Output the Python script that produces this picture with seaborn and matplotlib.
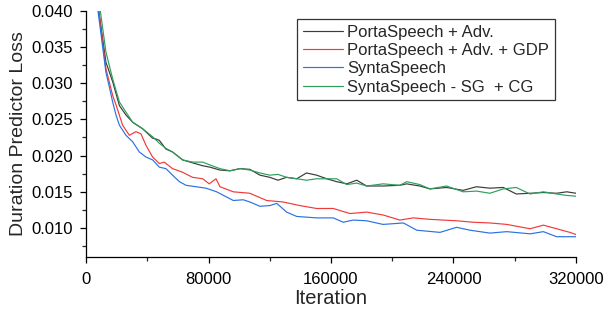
import numpy as np
import pandas as pd
import matplotlib
matplotlib.use("Agg")
import matplotlib.pyplot as plt
import seaborn as sns
from matplotlib.ticker import MultipleLocator

# series names as in the legend
names = ["PortaSpeech + Adv.", "PortaSpeech + Adv. + GDP",
         "SyntaSpeech", "SyntaSpeech - SG  + CG"]

# PortaSpeech + Adv. (dark grey)
porta_x = [8000, 13000, 17400, 21800, 26100, 30500, 37000, 43500, 45500, 47900,
           52200, 56500, 63100, 69600, 76200, 81000, 87500, 94000, 100600, 107000,
           113600, 120000, 125400, 131000, 137600, 144000, 150600, 157200, 163700, 170300,
           176800, 183300, 194000, 205000, 209400, 218000, 224600, 235500, 246300, 255000,
           263800, 272500, 281000, 290000, 298700, 307400, 314000, 320000]
porta_y = [0.0405, 0.0329, 0.0302, 0.0269, 0.0256, 0.0246, 0.0237, 0.0224, 0.0223, 0.0221,
           0.0209, 0.0205, 0.0194, 0.0190, 0.0186, 0.0184, 0.0180, 0.0179, 0.0182, 0.0181,
           0.0173, 0.0170, 0.0166, 0.0170, 0.0168, 0.0176, 0.0173, 0.0168, 0.0164, 0.0161,
           0.0166, 0.0158, 0.0158, 0.0159, 0.0161, 0.0158, 0.0154, 0.0156, 0.0152, 0.0157,
           0.0155, 0.0156, 0.0147, 0.0148, 0.0149, 0.0148, 0.0150, 0.0148]

# PortaSpeech + Adv. + GDP (red)
gdp_x = [8000, 13000, 17400, 19600, 23900, 28300, 32600, 35900, 39200, 43500,
         47900, 51100, 56500, 63100, 69600, 76200, 80500, 84900, 87500, 96200,
         107000, 118000, 128600, 139700, 150600, 161500, 172400, 183300, 194000, 205000,
         213700, 224600, 242000, 252900, 263800, 274800, 290000, 298700, 307400, 316000,
         320000]
gdp_y = [0.0405, 0.0320, 0.0283, 0.0270, 0.0242, 0.0228, 0.0233, 0.0230, 0.0214, 0.0198,
         0.0189, 0.0191, 0.0182, 0.0177, 0.0170, 0.0168, 0.0161, 0.0168, 0.0157, 0.0150,
         0.0148, 0.0138, 0.0136, 0.0131, 0.0127, 0.0127, 0.0120, 0.0122, 0.0118, 0.0111,
         0.0114, 0.0112, 0.0110, 0.0108, 0.0107, 0.0105, 0.0099, 0.0104, 0.0099, 0.0094,
         0.0091]

# SyntaSpeech (blue)
synta_x = [7500, 13000, 15000, 17400, 19600, 21800, 26100, 30500, 34800, 39200,
           43500, 47900, 52200, 56500, 61000, 65300, 71800, 78400, 85300, 96200,
           102700, 107000, 113600, 120000, 124600, 131000, 137600, 150600, 161500, 168000,
           174600, 183300, 194000, 207300, 216000, 231200, 242000, 250800, 263800, 274800,
           290000, 298700, 307400, 316000, 320000]
synta_y = [0.0405, 0.0315, 0.0297, 0.0274, 0.0256, 0.0242, 0.0228, 0.0219, 0.0205, 0.0198,
           0.0194, 0.0184, 0.0182, 0.0173, 0.0164, 0.0159, 0.0157, 0.0155, 0.0150, 0.0138,
           0.0139, 0.0136, 0.0130, 0.0131, 0.0134, 0.0122, 0.0116, 0.0114, 0.0114, 0.0108,
           0.0111, 0.0110, 0.0105, 0.0107, 0.0097, 0.0094, 0.0101, 0.0097, 0.0093, 0.0095,
           0.0092, 0.0095, 0.0088, 0.0088, 0.0088]

# SyntaSpeech - SG + CG (green)
sgcg_x = [9000, 13000, 17400, 21800, 26100, 30500, 37000, 43500, 47900, 52200,
          56500, 63100, 69600, 76200, 81000, 87500, 94000, 100600, 107000, 113600,
          120000, 125400, 131000, 137600, 144000, 150600, 157200, 163700, 170300, 176800,
          183300, 194000, 205000, 209400, 218000, 224600, 235500, 246300, 255000, 263800,
          272500, 281000, 290000, 298700, 307400, 314000, 320000]
sgcg_y = [0.0405, 0.0343, 0.0306, 0.0274, 0.0260, 0.0246, 0.0237, 0.0226, 0.0217, 0.0210,
          0.0205, 0.0194, 0.0191, 0.0191, 0.0187, 0.0182, 0.0179, 0.0182, 0.0180, 0.0176,
          0.0173, 0.0174, 0.0170, 0.0168, 0.0166, 0.0168, 0.0168, 0.0168, 0.0160, 0.0162,
          0.0158, 0.0161, 0.0159, 0.0164, 0.0160, 0.0154, 0.0158, 0.0150, 0.0151, 0.0148,
          0.0154, 0.0156, 0.0147, 0.0150, 0.0147, 0.0145, 0.0144]

colors = ["#3a3a3a", "#f03a3a", "#2a72e0", "#2f9e5c"]

frames = []
for name, xs, ys in zip(names, [porta_x, gdp_x, synta_x, sgcg_x],
                        [porta_y, gdp_y, synta_y, sgcg_y]):
    frames.append(pd.DataFrame({"Iteration": xs, "Loss": ys, "model": name}))
df = pd.concat(frames, ignore_index=True)

sns.set_style("ticks")
plt.rcParams["font.family"] = ["Liberation Sans", "DejaVu Sans"]

fig = plt.figure(figsize=(6.04, 3.11), dpi=100)
ax = fig.add_axes([0.1424, 0.1736, 0.8112, 0.7920])

sns.lineplot(data=df, x="Iteration", y="Loss", hue="model", hue_order=names,
             palette=colors, estimator=None, sort=False, linewidth=0.85, ax=ax)

ax.set_xlim(0, 320000)
ax.set_ylim(0.006, 0.040)
ax.xaxis.set_major_locator(MultipleLocator(80000))
ax.xaxis.set_minor_locator(MultipleLocator(40000))
ax.yaxis.set_major_locator(MultipleLocator(0.005))
ax.yaxis.set_minor_locator(MultipleLocator(0.0025))
ax.yaxis.set_major_formatter(matplotlib.ticker.FormatStrFormatter("%.3f"))

ax.tick_params(which="major", direction="out", length=4.5, width=0.9,
               labelsize=12, colors="black")
ax.tick_params(axis="x", which="major", pad=6)
ax.tick_params(axis="y", which="major", pad=5)
ax.tick_params(which="minor", direction="out", length=3, width=0.9)
for side in ["top", "right"]:
    ax.spines[side].set_visible(False)
for side in ["left", "bottom"]:
    ax.spines[side].set_color("black")
    ax.spines[side].set_linewidth(0.9)

ax.set_xlabel("Iteration", fontsize=14.5, labelpad=2)
ax.set_ylabel("Duration Predictor Loss", fontsize=14, labelpad=3)

leg = ax.legend(loc="upper left", bbox_to_anchor=(0.431, 0.967), borderaxespad=0,
                fontsize=12, frameon=True, fancybox=False, edgecolor="black",
                handlelength=2.4, handletextpad=0.25, labelspacing=0.2,
                borderpad=0.35)
leg.get_frame().set_linewidth(0.9)
for line in leg.get_lines():
    line.set_linewidth(0.85)

fig.savefig("out.png", dpi=100)
